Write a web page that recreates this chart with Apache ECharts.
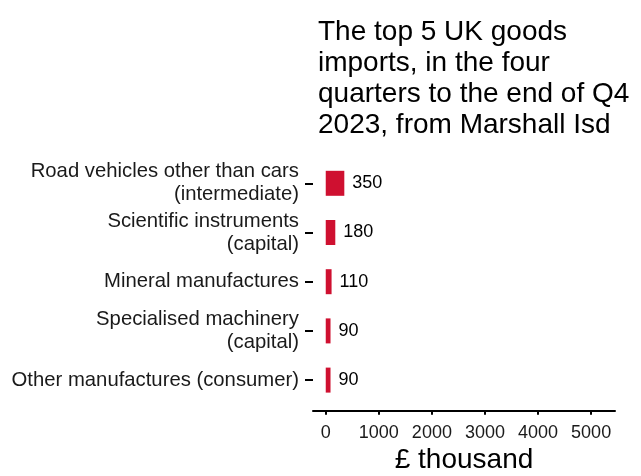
<!DOCTYPE html>
<html><head><meta charset="utf-8">
<script src="https://cdn.jsdelivr.net/npm/echarts@6/dist/echarts.min.js"></script>
<style>html,body{margin:0;padding:0;background:#fff}#c{width:641px;height:476px}</style>
</head><body><div id="c"></div>
<script>
const categories = ["Road vehicles other than cars\n(intermediate)", "Scientific instruments\n(capital)", "Mineral manufactures", "Specialised machinery\n(capital)", "Other manufactures (consumer)"];
const values = [350, 180, 110, 90, 90];
const xTicks = [0, 1000, 2000, 3000, 4000, 5000];
const titleText = "The top 5 UK goods\nimports, in the four\nquarters to the end of Q4\n2023, from Marshall Isd";

const chart = echarts.init(document.getElementById('c'), null, {renderer: 'canvas'});
const font = 'Liberation Sans, Arial, sans-serif';
chart.setOption({
  animation: false,
  title: {
    text: titleText, left: 313, top: 12,
    textStyle: {fontFamily: font, fontSize: 28, fontWeight: 'normal', color: '#000', lineHeight: 31}
  },
  grid: {left: 313, right: 26, top: 158.7, bottom: 71.3, containLabel: false, outerBoundsMode: 'none'},
  xAxis: {
    type: 'value', min: -240, max: 5450, offset: 6,
    name: '£ thousand', nameLocation: 'middle', nameGap: 34,
    nameTextStyle: {fontFamily: font, fontSize: 28, color: '#000'},
    axisLine: {show: true, lineStyle: {color: '#000', width: 2}},
    axisTick: {show: true, length: 4, lineStyle: {color: '#000', width: 2}, customValues: xTicks},
    axisLabel: {fontFamily: font, fontSize: 18, color: '#1a1a1a', margin: 13, customValues: xTicks, formatter: v => String(v)},
    splitLine: {show: false}
  },
  yAxis: {
    type: 'category', inverse: true, data: categories,
    axisLine: {show: false, onZero: false},
    axisTick: {show: true, alignWithLabel: true, length: 8, lineStyle: {color: '#000', width: 2}},
    axisLabel: {fontFamily: font, fontSize: 20.3, color: '#1a1a1a', margin: 14, lineHeight: 23, align: 'right'}
  },
  series: [{
    type: 'bar', data: values, barWidth: 25,
    itemStyle: {color: '#cf1030'},
    label: {show: true, position: 'right', distance: 8, fontFamily: font, fontSize: 18, color: '#000'}
  }]
});
</script></body></html>
